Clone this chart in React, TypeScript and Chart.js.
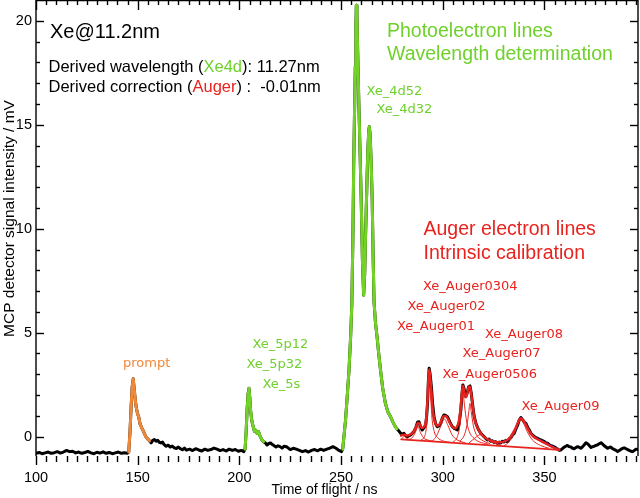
import React, { useEffect, useRef } from "react";
import { Chart, registerables } from "chart.js";

Chart.register(...registerables);

// ---- measured trace (time of flight in ns, MCP signal in mV) ----
const traceTof = [
  100, 101.5, 103, 104.5, 106, 107.5, 109, 110.5, 112, 113.5, 115, 116.5, 118, 119.5, 121, 122.5, 124, 125.5, 127, 128.5,
  130, 131.5, 133, 134.5, 136, 137.5, 139, 140.5, 142, 143.5, 145,
  145.6, 146.2, 146.8, 147.3, 147.8, 148.3, 148.8, 149.3, 149.9, 150.5, 151.2, 152, 152.9, 154, 155, 155.8,
  156.6, 157.4, 158.2, 159, 159.8, 160.6, 161.4, 162.2, 163, 164, 165, 166, 167, 168, 169, 170, 171, 172, 173, 174,
  175.5, 177, 178.5, 180, 181.5, 183, 184.5, 186, 187.5, 189, 190.5, 192, 193.5, 195, 196.5, 198, 199.5, 201, 202.2,
  202.8, 203.3, 203.8, 204.3, 204.7, 205.1, 205.5, 206, 206.4, 206.9, 207.4, 208, 208.7, 209.4, 210.3, 211.1, 211.9,
  212.8, 213.6, 214.5, 215.3, 216.2, 217, 218, 219, 220, 221, 222, 223.5, 225, 226.5, 228, 229.5, 231, 232.5, 234,
  235.5, 237, 238.5, 240, 241.5, 243, 244.5, 246, 247.5, 249, 250.2,
  250.8, 251.4, 252.2, 253, 253.9, 254.7, 255.3, 255.8, 256.2, 256.6, 257, 257.3, 257.5, 257.8, 258.2, 258.7, 259.3,
  259.9, 260.5, 261.1, 261.6, 262, 262.5, 263.1, 263.6, 263.9, 264.3, 264.8, 265.3, 265.8, 266.2, 266.9, 267.7, 268.5,
  269.4, 270.5, 271.8, 273, 274.3, 275.5, 276.7, 277.5,
  278.2, 279.3, 280.2, 280.9, 281.7, 282.6, 283.4, 284.2, 285, 285.9, 286.8, 287.6, 288.3, 289, 289.9, 290.7, 291.6,
  292.1, 292.5, 292.9, 293.3, 293.8, 294.4, 295, 295.7, 296.5, 297.3, 298.2, 299, 299.8, 300.6, 301.4, 302.3, 303.5,
  304.7, 305.9, 307.2, 308, 308.9, 309.4, 309.9, 310.5, 311.3, 312, 312.7, 313.4, 314, 314.6, 315.4, 316.3, 317.5,
  318.7, 319.5, 320.3, 321.1, 322, 322.8, 323.6, 324.4, 325.2, 326, 326.9, 327.7, 328.5, 329.3, 330.2, 331, 331.9,
  332.7, 333.5, 334.3, 335.1, 336, 336.8, 337.6, 338.4, 339.2, 340.1, 340.9, 341.5, 342.1, 342.7, 343.3, 344.2, 345,
  345.8, 346.6, 347.5, 348.3, 349.2, 350, 350.8, 351.6, 352.5, 353.3, 354.2, 355, 355.8, 356.5, 357.3, 358.1, 359,
  359.7, 360.5, 361.3, 362.2, 363, 363.8, 364.6, 365.5, 366.3, 367.2, 368, 368.8, 369.5, 370.4, 371.2, 372, 372.9,
  373.7, 374.5, 375.3, 376, 376.9, 377.8, 378.6, 379.4, 380.2, 381, 381.8, 382.6, 383.5, 384.4, 385.2, 386, 386.8,
  387.7, 388.5, 389.3, 390.1, 390.9, 391.7, 392.5, 393.4, 394.2, 395, 395.8, 396.6,
];
const traceMv = [
  -0.8, -0.76, -0.82, -0.78, -0.74, -0.8, -0.77, -0.72, -0.79, -0.74, -0.66, -0.72, -0.7, -0.78, -0.74, -0.8, -0.76, -0.71, -0.78, -0.82,
  -0.75, -0.79, -0.73, -0.8, -0.76, -0.82, -0.78, -0.74, -0.8, -0.77, -0.8,
  -0.74, 0.2, 1.5, 2.4, 2.78, 2.3, 1.76, 1.4, 1.12, 0.95, 0.6, 0.42, 0.24, 0.0, -0.12, -0.2,
  -0.3, -0.18, -0.14, -0.22, -0.17, -0.27, -0.3, -0.26, -0.38, -0.46, -0.41, -0.5, -0.45, -0.54, -0.57, -0.5, -0.58, -0.63, -0.55, -0.65,
  -0.6, -0.67, -0.58, -0.64, -0.69, -0.6, -0.66, -0.62, -0.55, -0.6, -0.67, -0.62, -0.69, -0.6, -0.66, -0.62, -0.7, -0.66, -0.72,
  -0.6, 0.2, 1.3, 2.1, 2.33, 1.9, 1.28, 0.85, 0.62, 0.45, 0.26, 0.32, 0.16, 0.24, 0.0, -0.16, -0.24,
  -0.3, -0.4, -0.33, -0.3, -0.38, -0.43, -0.5, -0.44, -0.48, -0.55, -0.46, -0.5, -0.62, -0.56, -0.6, -0.66, -0.72, -0.67, -0.74,
  -0.66, -0.62, -0.68, -0.6, -0.66, -0.6, -0.55, -0.48, -0.56, -0.66, -0.72,
  -0.6, 0.0, 0.8, 1.9, 3.2, 4.8, 6.4, 9.5, 13.0, 15.5, 17.8, 19.8, 20.75, 20.2, 18.4, 16.2, 13.8,
  11.4, 8.5, 6.8, 7.8, 9.5, 11.4, 13.6, 14.7, 14.9, 14.5, 13.2, 11.4, 8.5, 6.5, 5.5, 4.8, 4.0,
  3.2, 2.3, 1.6, 1.2, 0.96, 0.7, 0.48, 0.38,
  0.3, 0.16, 0.12, 0.16, 0.05, 0.0, 0.05, 0.08, 0.16, 0.26, 0.45, 0.7, 0.72, 0.5, 0.32, 0.42, 0.56,
  1.0, 1.6, 2.6, 3.29, 3.0, 2.4, 1.6, 0.96, 0.62, 0.48, 0.52, 0.64, 0.9, 1.04, 1.02, 0.96, 0.7,
  0.48, 0.38, 0.32, 0.6, 1.28, 2.0, 2.49, 2.3, 1.92, 2.1, 2.4, 2.44, 2.1, 1.6, 1.0, 0.64, 0.35,
  0.16, 0.08, 0.0, -0.08, -0.16, -0.12, -0.22, -0.2, -0.28, -0.24, -0.32, -0.26, -0.3, -0.22, -0.26, -0.18, -0.24,
  -0.1, -0.05, 0.08, 0.16, 0.38, 0.55, 0.8, 0.92, 0.82, 0.7, 0.64, 0.5, 0.38, 0.3, 0.16, 0.08, 0.0,
  -0.04, -0.08, -0.14, -0.16, -0.2, -0.24, -0.3, -0.32, -0.4, -0.44, -0.46, -0.5, -0.56, -0.6, -0.66, -0.64, -0.56,
  -0.5, -0.46, -0.42, -0.48, -0.5, -0.56, -0.58, -0.52, -0.48, -0.52, -0.56, -0.48, -0.4, -0.29, -0.34, -0.42, -0.52,
  -0.48, -0.46, -0.42, -0.4, -0.34, -0.29, -0.36, -0.44, -0.5, -0.56, -0.52, -0.5, -0.58, -0.62, -0.66, -0.72, -0.66,
  -0.6, -0.56, -0.54, -0.58, -0.62, -0.66, -0.7, -0.72, -0.66, -0.6, -0.62, -0.58,
];

// ---- sections of the trace highlighted in colour (ns ranges) ----
const promptRange = [145.5, 155.9];
const valence5Range = [202.5, 212.0];
const inner4dRange = [250.5, 277.6];
const fitDataRange = [318, 357.5];

// ---- Auger fit: total, linear background and components ----
const fitTof = [
  279.5, 281, 282.5, 284, 285.5, 286.8, 287.8, 288.6, 289.6, 290.6, 291.6, 292.3, 292.8, 293.3, 293.8, 294.4, 295,
  295.7, 296.6, 297.6, 298.6, 299.6, 300.6, 301.6, 302.6, 303.6, 304.7, 305.8, 306.8, 307.8, 308.7, 309.4, 309.9,
  310.5, 311.3, 312, 312.8, 313.4, 314, 314.7, 315.5, 316.4, 317.6, 319, 320.5, 322.5, 324.5, 326.5, 328.5, 330.5,
  332.5, 334, 335.5, 336.8, 337.8, 338.6, 339.6, 340.8, 342, 343.5, 345, 347, 349, 351, 353, 355, 357.3,
];
const fitMv = [
  0.05, 0.1, 0.05, 0.1, 0.22, 0.45, 0.66, 0.62, 0.42, 0.45, 0.7, 1.4, 2.5, 3.25, 2.9, 2.2, 1.4,
  0.9, 0.6, 0.52, 0.62, 0.86, 1.0, 0.98, 0.85, 0.65, 0.48, 0.4, 0.45, 0.7, 1.3, 2.1, 2.45,
  2.2, 1.9, 2.05, 2.4, 2.4, 2.05, 1.5, 0.95, 0.6, 0.33, 0.12, -0.02, -0.15, -0.22, -0.27, -0.27, -0.22,
  -0.1, 0.1, 0.35, 0.65, 0.85, 0.88, 0.78, 0.58, 0.35, 0.12, -0.03, -0.15, -0.25, -0.35, -0.45, -0.55, -0.64,
];
const backgroundTof = [279.6, 357.3];
const backgroundMv = [-0.13, -0.64];

const auger00Tof = [279.6, 280.4, 281, 281.7, 282.6, 284];
const auger00Mv = [-0.12, -0.04, 0.02, -0.04, -0.1, -0.15];
const auger01Tof = [283, 285, 286.5, 287.8, 289, 290.5, 293, 296];
const auger01Mv = [-0.15, -0.05, 0.2, 0.5, 0.2, -0.05, -0.17, -0.23];
const auger02Tof = [289.5, 291, 292, 292.6, 293.3, 294, 294.7, 295.8, 297.5, 300, 304];
const auger02Mv = [-0.15, 0.0, 0.5, 1.5, 3.1, 2.0, 0.9, 0.25, -0.05, -0.2, -0.28];
const auger0304Tof = [295, 297, 299, 300.8, 302.5, 304.5, 307, 311];
const auger0304Mv = [-0.2, 0.05, 0.5, 0.85, 0.55, 0.1, -0.15, -0.3];
const auger0506Tof = [305, 307, 308.5, 309.3, 309.9, 310.7, 311.8, 313, 315, 318, 322];
const auger0506Mv = [-0.25, -0.05, 0.6, 1.5, 2.1, 1.5, 0.7, 0.25, -0.05, -0.25, -0.35];
const auger07Tof = [308.5, 310.5, 312, 312.8, 313.4, 314, 315, 316.5, 319, 323];
const auger07Mv = [-0.2, 0.05, 0.6, 1.2, 1.6, 1.2, 0.55, 0.1, -0.15, -0.33];
const auger08Tof = [313, 316, 318.5, 321, 325, 328];
const auger08Mv = [-0.3, -0.05, 0.1, -0.05, -0.3, -0.38];
const auger09Tof = [330, 333, 335.5, 337, 338.4, 339.8, 341.5, 344, 348, 352];
const auger09Mv = [-0.45, -0.2, 0.25, 0.6, 0.8, 0.62, 0.25, -0.15, -0.42, -0.55];

// ---- axes ----
const xMin = 100;
const xMax = 396;
const yMin = -0.93;
const yMax = 21;
const xTickLabels = [100, 150, 200, 250, 300, 350];
const yTickLabels = [0, 5, 10, 15, 20];
const xMinorStep = 5;
const yMinorStep = 1;
const xTitle = "Time of flight / ns";
const yTitle = "MCP detector signal intensity / mV";

// ---- colours ----
const GREEN = "#72d326";
const GREEN_TEXT = "#6fd12c";
const ORANGE = "#f0883a";
const RED = "#e8231e";
const NAVY = "#1c1c7a";

// ---- annotations (text, pixel layout) ----
const peakLabels: { text: string; color: string; x: number; y: number }[] = [
  { text: "prompt", color: ORANGE, x: 123, y: 366.5 },
  { text: "Xe_5p12", color: GREEN_TEXT, x: 252.5, y: 348 },
  { text: "Xe_5p32", color: GREEN_TEXT, x: 246.5, y: 368 },
  { text: "Xe_5s", color: GREEN_TEXT, x: 262.5, y: 388 },
  { text: "Xe_4d52", color: GREEN_TEXT, x: 366.5, y: 95 },
  { text: "Xe_4d32", color: GREEN_TEXT, x: 376.5, y: 113 },
  { text: "Xe_Auger0304", color: RED, x: 423, y: 290 },
  { text: "Xe_Auger02", color: RED, x: 407.5, y: 309.5 },
  { text: "Xe_Auger01", color: RED, x: 397, y: 329.5 },
  { text: "Xe_Auger08", color: RED, x: 485, y: 338 },
  { text: "Xe_Auger07", color: RED, x: 462.5, y: 357 },
  { text: "Xe_Auger0506", color: RED, x: 442.5, y: 378 },
  { text: "Xe_Auger09", color: RED, x: 521.5, y: 410 },
];

const pts = (xs: number[], ys: number[]) => xs.map((x, i) => ({ x, y: ys[i] }));
const inRange = (r: number[]) =>
  pts(traceTof, traceMv).filter((p) => p.x >= r[0] && p.x <= r[1]);

const SANS = '"Liberation Sans", Arial, sans-serif';
const LABEL = '"DejaVu Sans", sans-serif';

const decorations = {
  id: "decorations",
  afterDraw(chart: any) {
    const { ctx, chartArea: ca, scales } = chart;
    const xs = scales.x;
    const ys = scales.y;
    ctx.save();
    ctx.strokeStyle = "#000";
    ctx.fillStyle = "#000";
    ctx.lineWidth = 1.4;
    const seg = (x1: number, y1: number, x2: number, y2: number) => {
      ctx.beginPath();
      ctx.moveTo(x1, y1);
      ctx.lineTo(x2, y2);
      ctx.stroke();
    };
    // frame
    seg(ca.left, ca.top, ca.left, ca.bottom);
    seg(ca.right, ca.top, ca.right, ca.bottom);
    seg(ca.left, ca.top + 0.5, ca.right, ca.top + 0.5);
    // y ticks (left, inward; right, inward)
    const yMajStep = yTickLabels[1] - yTickLabels[0];
    for (let v = yTickLabels[0]; v <= yTickLabels[yTickLabels.length - 1] + 1e-6; v += yMinorStep) {
      const py = Math.round(ys.getPixelForValue(v)) + 0.5;
      const major = Math.abs(v / yMajStep - Math.round(v / yMajStep)) < 1e-6;
      const len = major ? 8 : 4;
      seg(ca.left, py, ca.left + len, py);
      seg(ca.right, py, ca.right - len, py);
    }
    // x ticks (top hanging down; bottom outward)
    const xMajStep = xTickLabels[1] - xTickLabels[0];
    for (let v = xMin; v <= xMax - 0.5; v += xMinorStep) {
      const px = Math.round(xs.getPixelForValue(v)) + 0.5;
      const major = Math.abs(v / xMajStep - Math.round(v / xMajStep)) < 1e-6;
      seg(px, ca.top, px, ca.top + (major ? 10 : 5));
      seg(px, ca.bottom, px, ca.bottom + (major ? 9 : 6));
    }
    // tick labels
    ctx.font = `14.5px ${SANS}`;
    ctx.textAlign = "center";
    ctx.textBaseline = "alphabetic";
    xTickLabels.forEach((v) => ctx.fillText(String(v), xs.getPixelForValue(v), ca.bottom + 25.5));
    ctx.textAlign = "right";
    ctx.textBaseline = "middle";
    yTickLabels.forEach((v) => ctx.fillText(String(v), ca.left - 4, ys.getPixelForValue(v)));
    // axis titles
    ctx.font = `14px ${SANS}`;
    ctx.textAlign = "left";
    ctx.textBaseline = "alphabetic";
    ctx.fillText(xTitle, 271.5, 493.5);
    ctx.save();
    ctx.translate(13.5, 218.5);
    ctx.rotate(-Math.PI / 2);
    ctx.font = `15.5px ${SANS}`;
    ctx.textAlign = "center";
    ctx.fillText(yTitle, 0, 0);
    ctx.restore();

    // header text
    const rich = (parts: [string, string][], x: number, y: number) => {
      let cx = x;
      parts.forEach(([t, c]) => {
        ctx.fillStyle = c;
        ctx.fillText(t, cx, y);
        cx += ctx.measureText(t).width;
      });
    };
    ctx.textAlign = "left";
    ctx.font = `20px ${SANS}`;
    ctx.fillStyle = "#000";
    ctx.fillText("Xe@11.2nm", 50, 38);
    ctx.font = `16.5px ${SANS}`;
    rich([["Derived wavelength (", "#000"], ["Xe4d", GREEN_TEXT], ["): 11.27nm", "#000"]], 48.5, 72);
    rich([["Derived correction (", "#000"], ["Auger", RED], [") :  -0.01nm", "#000"]], 48.5, 91.5);
    ctx.font = `19.5px ${SANS}`;
    ctx.fillStyle = GREEN_TEXT;
    ctx.fillText("Photoelectron lines", 387, 36.5);
    ctx.fillText("Wavelength determination", 387, 60);
    ctx.fillStyle = RED;
    ctx.fillText("Auger electron lines", 423.5, 235);
    ctx.fillText("Intrinsic calibration", 423.5, 259);

    // peak labels
    ctx.font = `13px ${LABEL}`;
    peakLabels.forEach((l) => {
      ctx.fillStyle = l.color;
      ctx.fillText(l.text, l.x, l.y);
    });
    ctx.restore();
  },
};

export default function App() {
  const canvasRef = useRef<HTMLCanvasElement | null>(null);

  useEffect(() => {
    document.body.style.margin = "0";
    const canvas = canvasRef.current;
    if (!canvas) return;
    const comp = (xs: number[], ys: number[]) => ({
      data: pts(xs, ys),
      borderColor: RED,
      borderWidth: 1,
      cubicInterpolationMode: "monotone" as const,
      pointRadius: 0,
    });
    const chart = new Chart(canvas, {
      type: "line",
      data: {
        datasets: [
          comp(auger00Tof, auger00Mv),
          comp(auger01Tof, auger01Mv),
          comp(auger02Tof, auger02Mv),
          comp(auger0304Tof, auger0304Mv),
          comp(auger0506Tof, auger0506Mv),
          comp(auger07Tof, auger07Mv),
          comp(auger08Tof, auger08Mv),
          comp(auger09Tof, auger09Mv),
          { data: pts(backgroundTof, backgroundMv), borderColor: RED, borderWidth: 1.8, pointRadius: 0 },
          {
            data: pts(fitTof, fitMv),
            borderColor: RED,
            borderWidth: 2.4,
            cubicInterpolationMode: "monotone",
            pointRadius: 0,
          },
          { data: inRange(fitDataRange), borderColor: NAVY, borderWidth: 1.5, pointRadius: 0 },
          { data: inRange(inner4dRange), borderColor: GREEN, borderWidth: 3, pointRadius: 0 },
          { data: inRange(valence5Range), borderColor: GREEN, borderWidth: 3, pointRadius: 0 },
          { data: inRange(promptRange), borderColor: ORANGE, borderWidth: 3, pointRadius: 0 },
          { data: pts(traceTof, traceMv), borderColor: "#000", borderWidth: 3, pointRadius: 0 },
        ],
      },
      options: {
        responsive: false,
        devicePixelRatio: 1,
        animation: false,
        layout: { padding: { left: 36, right: 2, top: 0, bottom: 42 } },
        elements: { line: { borderJoinStyle: "round", borderCapStyle: "round", tension: 0 } },
        scales: {
          x: { type: "linear", min: xMin, max: xMax, display: false },
          y: { type: "linear", min: yMin, max: yMax, display: false },
        },
        plugins: { legend: { display: false }, tooltip: { enabled: false } },
      },
      plugins: [decorations],
    });
    return () => chart.destroy();
  }, []);

  return (
    <div style={{ position: "fixed", left: 0, top: 0, width: 640, height: 498, background: "#fff" }}>
      <canvas ref={canvasRef} width={640} height={498} style={{ display: "block" }} />
    </div>
  );
}
